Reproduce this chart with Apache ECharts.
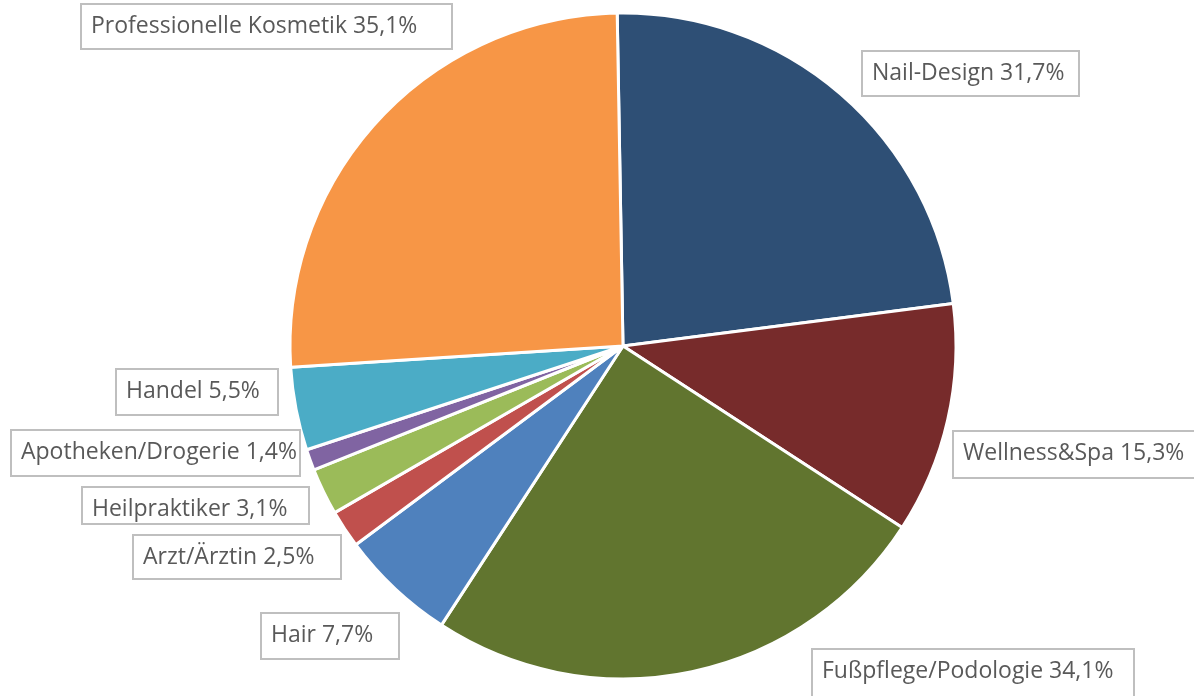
<!DOCTYPE html>
<html>
<head>
<meta charset="utf-8">
<script src="https://cdn.jsdelivr.net/npm/echarts@6/dist/echarts.min.js"></script>
<style>
html,body{margin:0;padding:0;background:#fff;}
#chart{width:1194px;height:696px;}
</style>
</head>
<body>
<div id="chart"></div>
<script>
// Data (clockwise from 12 o'clock)
const categories = ['Nail-Design', 'Wellness&Spa', 'Fußpflege/Podologie', 'Hair', 'Arzt/Ärztin', 'Heilpraktiker', 'Apotheken/Drogerie', 'Handel', 'Professionelle Kosmetik'];
const values = [31.7, 15.3, 34.1, 7.7, 2.5, 3.1, 1.4, 5.5, 35.1];
const colors = ['#2E4F75', '#772B2B', '#61752F', '#4F81BD', '#C0504D', '#9BBB59', '#8064A2', '#4BACC6', '#F79646'];

// Label box layout only: top-left anchors, box widths, box heights
const labelPos = [[863, 52], [954, 432], [813, 650], [262, 614], [134, 536], [83, 488], [12, 431], [117, 370], [82, 5]];
const labelBoxW = [215, 245, 320, 136, 206, 225, 287, 160, 369];
const labelBoxH = [43, 45, 46, 44, 42, 35, 44, 44, 43];

const padL = 9, padR = 12, padT = 8, padB = 8;

const chart = echarts.init(document.getElementById('chart'), null, {renderer: 'canvas'});
chart.setOption({
  animation: false,
  backgroundColor: '#ffffff',
  series: [{
    type: 'pie',
    center: [623, 346],
    radius: 333,
    startAngle: 91,
    clockwise: true,
    avoidLabelOverlap: false,
    data: categories.map((c, i) => ({
      name: c,
      value: values[i],
      itemStyle: {color: colors[i]},
      label: {width: labelBoxW[i] - padL - padR, height: labelBoxH[i] - padT - padB}
    })),
    itemStyle: {borderColor: '#ffffff', borderWidth: 3},
    label: {
      show: true,
      position: 'outside',
      formatter: p => p.name + ' ' + String(p.value).replace('.', ',') + '%',
      fontFamily: 'Open Sans',
      fontSize: 23,
      lineHeight: 27,
      color: '#595959',
      backgroundColor: '#ffffff',
      borderColor: '#bfbfbf',
      borderWidth: 2,
      verticalAlign: 'top',
      overflow: 'none',
      padding: [padT, padR, padB, padL]
    },
    labelLine: {show: false},
    labelLayout: p => ({x: labelPos[p.dataIndex][0], y: labelPos[p.dataIndex][1], align: 'left', verticalAlign: 'top'}),
    emphasis: {disabled: true}
  }]
});
</script>
</body>
</html>
